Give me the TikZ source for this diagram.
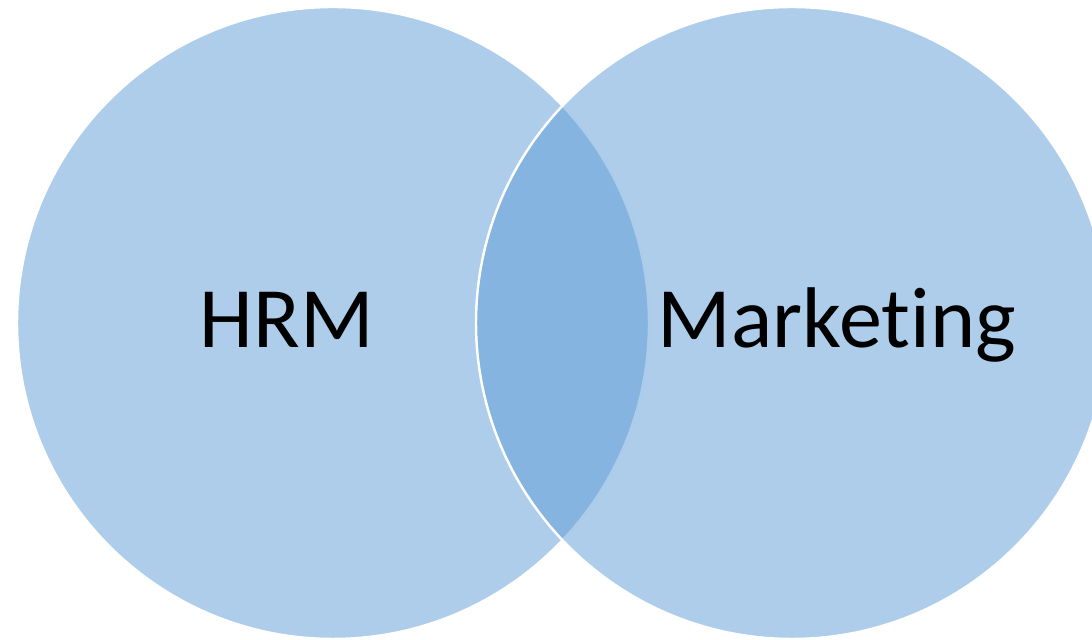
\documentclass[tikz,border=0pt]{standalone}
\usepackage{fontspec}
\setmainfont{Carlito}[RawFeature=-liga]
\usepackage{tikz}
\definecolor{vennblue}{HTML}{5B9BD5}
\tikzset{vennset/.style={fill=vennblue, fill opacity=0.5, draw=white, line width=1.4pt},
	vennlabel/.style={font=\fontsize{49}{58}\selectfont, anchor=base, inner sep=0pt}}

\begin{document}
\begin{tikzpicture}
			%%%%% START %%%%%
			
			\useasboundingbox (0, 0) rectangle (21.84, 12.8);
			\clip (0, 0) rectangle (21.84, 12.8);
			
			\draw[vennset] (6.66, 6.34) circle (6.32);
			\draw[vennset] (15.84, 6.34) circle (6.32);
			
			\node[vennlabel] (hrm) at (5.74, 5.84) {HRM};
			\node[vennlabel] (marketing) at (16.74, 5.84) {Marketing};
			
			%%%%% END %%%%%
		\end{tikzpicture}
\end{document}
